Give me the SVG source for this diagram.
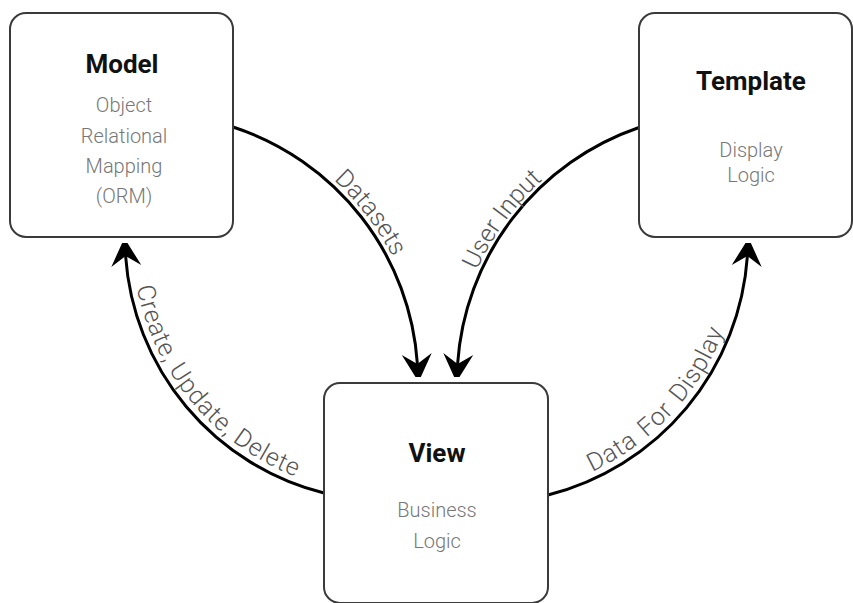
<svg xmlns="http://www.w3.org/2000/svg" width="853" height="603" viewBox="0 0 853 603">
<defs>
<style>
.box{fill:#fff;stroke:#3a3a3a;stroke-width:2}
.title{font-family:Roboto,"Liberation Sans",sans-serif;font-weight:700;font-size:26px;fill:#111;text-anchor:middle}
.sub{font-family:Roboto,"Liberation Sans",sans-serif;font-weight:300;font-size:20px;fill:#777;text-anchor:middle}
.edge{fill:none;stroke:#000;stroke-width:3}
.lbl{font-family:Roboto,"Liberation Sans",sans-serif;font-weight:300;font-size:25px;fill:#555}
.wide{letter-spacing:0.8px}
</style>
<marker id="arr" markerUnits="userSpaceOnUse" viewBox="-19 -16 32 32" refX="0" refY="0" markerWidth="32" markerHeight="32" orient="auto">
<path d="M18,0 L-10,-15 L0,0 L-10,15 Z" fill="#000"/>
</marker>
<path id="tpDatasets" d="M220.7,118.3 A273,273 0 0 1 423,382"/>
<path id="tpUser" d="M453,382 A273,273 0 0 1 641.6,122.4"/>
<path id="tpCUD" d="M132,238 A256,256 0 0 0 343.5,490.1"/>
<path id="tpDFD" d="M501,495.4 A258,258 0 0 0 741,238"/>
</defs>
<rect width="853" height="603" fill="#fff"/>
<g id="connectors">
<path class="edge" d="M233,127 A268,268 0 0 1 417.4,364" marker-end="url(#arr)"/>
<path class="edge" d="M639,127.5 A269,269 0 0 0 457.6,364" marker-end="url(#arr)"/>
<path class="edge" d="M324,493 A263,263 0 0 1 125.6,256" marker-end="url(#arr)"/>
<path class="edge" d="M548,495 A265,265 0 0 0 747.4,256" marker-end="url(#arr)"/>
<text class="lbl"><textPath href="#tpDatasets" startOffset="50%" text-anchor="middle">Datasets</textPath></text>
<text class="lbl"><textPath href="#tpUser" startOffset="50%" text-anchor="middle">User Input</textPath></text>
<text class="lbl wide"><textPath href="#tpCUD" startOffset="50%" text-anchor="middle">Create, Update, Delete</textPath></text>
<text class="lbl wide" word-spacing="3"><textPath href="#tpDFD" startOffset="50%" text-anchor="middle">Data For Display</textPath></text>
</g>
<g id="model">
<rect class="box" x="10" y="13" width="223" height="224" rx="16"/>
<text class="title" x="122" y="73">Model</text>
<text class="sub" x="124" y="112">Object</text>
<text class="sub" x="124" y="143">Relational</text>
<text class="sub" x="124" y="173">Mapping</text>
<text class="sub" x="124" y="203">(ORM)</text>
</g>
<g id="template">
<rect class="box" x="639" y="13" width="213" height="224" rx="16"/>
<text class="title" x="751" y="90">Template</text>
<text class="sub" x="751" y="157">Display</text>
<text class="sub" x="751" y="182">Logic</text>
</g>
<g id="view">
<rect class="box" x="324" y="383" width="224" height="220" rx="16"/>
<text class="title" x="437" y="462">View</text>
<text class="sub" x="437" y="517">Business</text>
<text class="sub" x="437" y="548">Logic</text>
</g>
</svg>
